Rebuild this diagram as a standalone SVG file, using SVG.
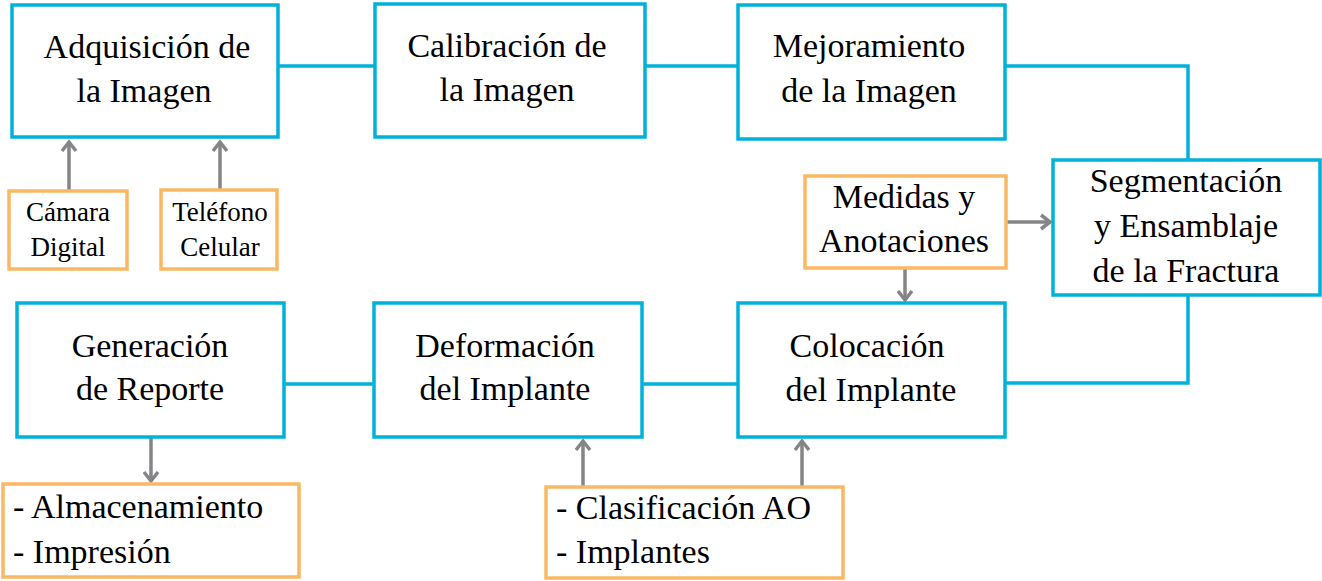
<svg xmlns="http://www.w3.org/2000/svg" width="1322" height="581" viewBox="0 0 1322 581">
<style>
.main{fill:#fff;stroke:#00B1DA;stroke-width:3.5}
.sub{fill:#fff;stroke:#FAB863;stroke-width:3.5}
.link{fill:none;stroke:#00B1DA;stroke-width:3.5}
.arr{fill:none;stroke:#858588;stroke-width:3.5;marker-end:url(#ah)}
</style>
<defs>
<marker id="ah" markerUnits="userSpaceOnUse" viewBox="-12 -10 16 20" refX="0" refY="0" markerWidth="16" markerHeight="20" orient="auto">
<path d="M-9,-7 L0,0 L-9,7" fill="none" stroke="#858588" stroke-width="3.5"/>
</marker>
</defs>
<rect width="1322" height="581" fill="#fff"/>
<g id="connectors">
<path class="link" d="M278,66 H375"/>
<path class="link" d="M645,66 H738"/>
<path class="link" d="M1005,66 H1188 V160"/>
<path class="link" d="M1188,295 V383 H1005"/>
<path class="link" d="M738,384 H642"/>
<path class="link" d="M374,384 H284"/>
<path class="arr" d="M69,190 V142"/>
<path class="arr" d="M220,190 V142"/>
<path class="arr" d="M1006,222 H1050"/>
<path class="arr" d="M905,268 V300"/>
<path class="arr" d="M151,437 V481"/>
<path class="arr" d="M583,487 V441"/>
<path class="arr" d="M802,487 V441"/>
</g>
<g id="adquisicion">
<rect class="main" x="12" y="5" width="266" height="132"/>
<text x="147" y="58" font-size="34" text-anchor="middle" font-family="Liberation Serif">Adquisición de</text>
<text x="144" y="102" font-size="34" text-anchor="middle" font-family="Liberation Serif">la Imagen</text>
</g>
<g id="calibracion">
<rect class="main" x="375" y="4" width="270" height="133"/>
<text x="507" y="57" font-size="34" text-anchor="middle" font-family="Liberation Serif">Calibración de</text>
<text x="507" y="101" font-size="34" text-anchor="middle" font-family="Liberation Serif">la Imagen</text>
</g>
<g id="mejoramiento">
<rect class="main" x="738" y="5" width="267" height="134"/>
<text x="869" y="57" font-size="34" text-anchor="middle" font-family="Liberation Serif">Mejoramiento</text>
<text x="869" y="102" font-size="34" text-anchor="middle" font-family="Liberation Serif">de la Imagen</text>
</g>
<g id="segmentacion">
<rect class="main" x="1053" y="160" width="267" height="135"/>
<text x="1186" y="192" font-size="34" text-anchor="middle" font-family="Liberation Serif">Segmentación</text>
<text x="1186" y="237" font-size="34" text-anchor="middle" font-family="Liberation Serif">y Ensamblaje</text>
<text x="1186" y="282" font-size="34" text-anchor="middle" font-family="Liberation Serif">de la Fractura</text>
</g>
<g id="medidas">
<rect class="sub" x="805" y="176" width="201" height="92"/>
<text x="904" y="208" font-size="34" text-anchor="middle" font-family="Liberation Serif">Medidas y</text>
<text x="904" y="252" font-size="34" text-anchor="middle" font-family="Liberation Serif">Anotaciones</text>
</g>
<g id="camara">
<rect class="sub" x="9" y="191" width="118" height="78"/>
<text x="68" y="221" font-size="27" text-anchor="middle" font-family="Liberation Serif">Cámara</text>
<text x="68" y="256" font-size="27" text-anchor="middle" font-family="Liberation Serif">Digital</text>
</g>
<g id="telefono">
<rect class="sub" x="161" y="190" width="116" height="79"/>
<text x="220" y="221" font-size="27" text-anchor="middle" font-family="Liberation Serif">Teléfono</text>
<text x="220" y="256" font-size="27" text-anchor="middle" font-family="Liberation Serif">Celular</text>
</g>
<g id="generacion">
<rect class="main" x="17" y="303" width="267" height="134"/>
<text x="150" y="357" font-size="34" text-anchor="middle" font-family="Liberation Serif">Generación</text>
<text x="150" y="400" font-size="34" text-anchor="middle" font-family="Liberation Serif">de Reporte</text>
</g>
<g id="deformacion">
<rect class="main" x="374" y="303" width="268" height="134"/>
<text x="505" y="357" font-size="34" text-anchor="middle" font-family="Liberation Serif">Deformación</text>
<text x="505" y="400" font-size="34" text-anchor="middle" font-family="Liberation Serif">del Implante</text>
</g>
<g id="colocacion">
<rect class="main" x="738" y="303" width="267" height="134"/>
<text x="867" y="357" font-size="34" text-anchor="middle" font-family="Liberation Serif">Colocación</text>
<text x="871" y="401" font-size="34" text-anchor="middle" font-family="Liberation Serif">del Implante</text>
</g>
<g id="almacenamiento">
<rect class="sub" x="3" y="484" width="296" height="93"/>
<text x="13" y="518" font-size="34" font-family="Liberation Serif">- Almacenamiento</text>
<text x="13" y="563" font-size="34" font-family="Liberation Serif">- Impresión</text>
</g>
<g id="clasificacion">
<rect class="sub" x="546" y="487" width="297" height="91"/>
<text x="556" y="519" font-size="34" font-family="Liberation Serif">- Clasificación AO</text>
<text x="556" y="563" font-size="34" font-family="Liberation Serif">- Implantes</text>
</g>
</svg>
